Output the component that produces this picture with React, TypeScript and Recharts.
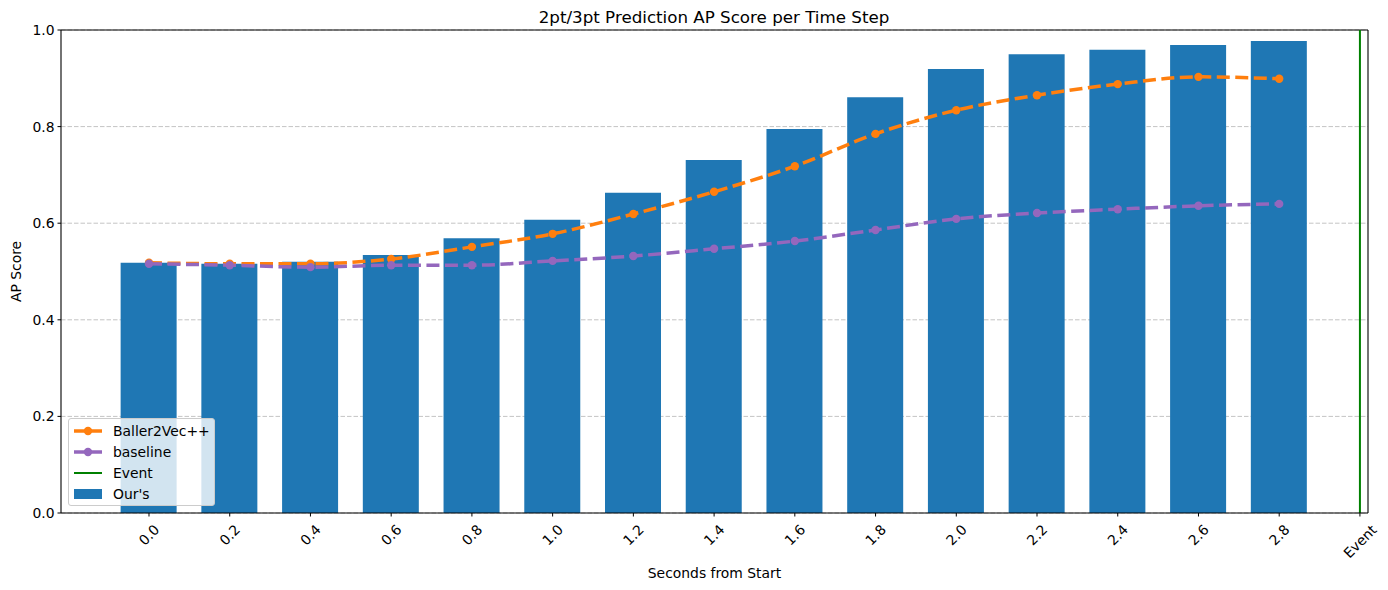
import React from 'react';
import {
  ComposedChart, Bar, Line, XAxis, YAxis, CartesianGrid, Legend, ReferenceLine, Label,
} from 'recharts';

const timeLabels = ['0.0', '0.2', '0.4', '0.6', '0.8', '1.0', '1.2', '1.4', '1.6', '1.8', '2.0', '2.2', '2.4', '2.6', '2.8'];
const tickLabels = [...timeLabels, 'Event'];
const oursScores = [0.518, 0.516, 0.520, 0.534, 0.569, 0.607, 0.663, 0.731, 0.795, 0.861, 0.919, 0.950, 0.959, 0.969, 0.977];
const ballerScores = [0.518, 0.516, 0.516, 0.526, 0.551, 0.578, 0.619, 0.665, 0.718, 0.785, 0.834, 0.865, 0.888, 0.903, 0.899];
const baselineScores = [0.516, 0.513, 0.509, 0.513, 0.513, 0.522, 0.532, 0.547, 0.563, 0.586, 0.609, 0.621, 0.629, 0.636, 0.640];
const yTicks = [0, 0.2, 0.4, 0.6, 0.8, 1.0];
const eventIndex = 15;

const data = timeLabels.map((t, i) => ({
  idx: i,
  label: t,
  ours: oursScores[i],
  baller: ballerScores[i],
  baseline: baselineScores[i],
}));

const FONT = 'DejaVu Sans, sans-serif';
const BLUE = '#1f77b4';
const ORANGE = '#ff7f0e';
const PURPLE = '#9467bd';
const GREEN = '#008000';

// rough DejaVu Sans advance widths (em)
function textWidth(s: string, size: number) {
  let w = 0;
  for (const c of s) {
    if (c === '.') w += 0.318;
    else if (c === 'E') w += 0.632;
    else if (c === 't') w += 0.392;
    else w += 0.62;
  }
  return w * size;
}

function XTick({ x, y, payload }: any) {
  const label = tickLabels[payload.value] ?? '';
  const w = textWidth(label, 13.9);
  const cy = y + 3 + (w + 16) / (2 * Math.SQRT2);
  return (
    <text x={x} y={cy} transform={`rotate(-45 ${x} ${cy})`} textAnchor="middle" dominantBaseline="central"
      fontSize={13.9} fontFamily={FONT} fill="#000">{label}</text>
  );
}

function LegendBox() {
  const rows = [
    { name: 'Baller2Vec++', kind: 'line', color: ORANGE },
    { name: 'baseline', kind: 'line', color: PURPLE },
    { name: 'Event', kind: 'plain', color: GREEN },
    { name: "Our's", kind: 'bar', color: BLUE },
  ];
  return (
    <div style={{
      width: 147, height: 88, boxSizing: 'border-box', background: 'rgba(255,255,255,0.8)',
      border: '1px solid #cccccc', borderRadius: 3, padding: '2px 0 0 0', fontFamily: FONT, fontSize: 13.9,
    }}>
      {rows.map((r) => (
        <div key={r.name} style={{ display: 'flex', alignItems: 'center', height: 20.8 }}>
          <svg width={44} height={16} style={{ flex: 'none' }}>
            {r.kind === 'bar' && <rect x={5} y={3} width={28} height={10} fill={r.color} />}
            {r.kind !== 'bar' && <line x1={5} x2={33} y1={8} y2={8} stroke={r.color} strokeWidth={r.kind === 'line' ? 3.5 : 2} />}
            {r.kind === 'line' && <circle cx={19} cy={8} r={4.2} fill={r.color} />}
          </svg>
          <span style={{ color: '#000' }}>{r.name}</span>
        </div>
      ))}
    </div>
  );
}

export default function App() {
  return (
    <div style={{ position: 'absolute', left: 0, top: 0, width: 1388, height: 590, background: '#fff' }}>
      <ComposedChart width={1388} height={590} data={data} margin={{ top: 30, right: 20, bottom: 0, left: 0 }}>
        <text x={714} y={17} textAnchor="middle" dominantBaseline="central" fontSize={16.7} fontFamily={FONT} fill="#000">
          2pt/3pt Prediction AP Score per Time Step
        </text>
        <CartesianGrid vertical={false} stroke="#c4c4c4" strokeDasharray="4.5 2" strokeWidth={1} />
        <XAxis dataKey="idx" type="number" domain={[-1.09, 15.1]} allowDataOverflow
          ticks={tickLabels.map((_, i) => i)} interval={0} tick={<XTick />}
          height={77} tickSize={3.5} tickMargin={2} axisLine={{ stroke: '#000', strokeWidth: 1.1 }} tickLine={{ stroke: '#000' }}>
          <Label value="Seconds from Start" position="insideBottom" offset={12} fontSize={13.9} fontFamily={FONT} fill="#000" />
        </XAxis>
        <YAxis type="number" domain={[0, 1]} ticks={yTicks} interval={0} width={61}
          tickFormatter={(v: number) => v.toFixed(1)} tickSize={3.5} tickMargin={3}
          tick={{ fontSize: 13.9, fontFamily: FONT, fill: '#000' }}
          axisLine={{ stroke: '#000', strokeWidth: 1.1 }} tickLine={{ stroke: '#000' }}>
          <Label value="AP Score" angle={-90} position="insideLeft" offset={16} fontSize={13.9} fontFamily={FONT} fill="#000" style={{ textAnchor: 'middle' }} />
        </YAxis>
        <ReferenceLine y={1} stroke="#000" strokeWidth={1.1} />
        <ReferenceLine x={15.1} stroke="#000" strokeWidth={1.1} />
        <Bar dataKey="ours" name="Our's" fill={BLUE} barSize={56} isAnimationActive={false} />
        <Line dataKey="baller" name="Baller2Vec++" type="monotone" stroke={ORANGE} strokeWidth={3.5} strokeDasharray="13 5.5"
          dot={{ r: 4.2, fill: ORANGE, stroke: ORANGE, strokeWidth: 0, strokeDasharray: '' }} activeDot={false} isAnimationActive={false} />
        <Line dataKey="baseline" name="baseline" type="monotone" stroke={PURPLE} strokeWidth={3.5} strokeDasharray="13 5.5"
          dot={{ r: 4.2, fill: PURPLE, stroke: PURPLE, strokeWidth: 0, strokeDasharray: '' }} activeDot={false} isAnimationActive={false} />
        <ReferenceLine x={eventIndex} stroke={GREEN} strokeWidth={2} />
        <Legend layout="vertical" align="center" verticalAlign="middle" content={<LegendBox />}
          wrapperStyle={{ position: 'absolute', left: 68, top: 418, width: 147, height: 88, margin: 0 }} />
      </ComposedChart>
    </div>
  );
}
